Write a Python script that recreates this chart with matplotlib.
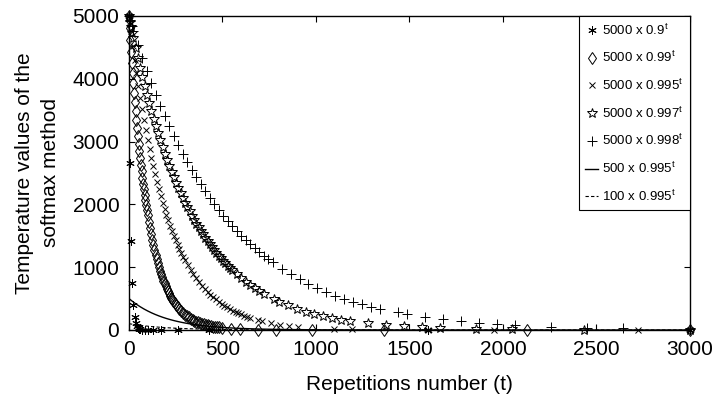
import matplotlib
matplotlib.use("Agg")
import matplotlib.pyplot as plt

plt.rcParams['font.family'] = ['Liberation Sans', 'DejaVu Sans']

# ---- data (t, temperature) ----
t_09 = [0, 6, 12, 18, 24, 30, 36, 42, 48, 54, 60, 72, 84, 100, 130, 170, 260, 430, 1600, 3000]
y_09 = [5000, 2657, 1412, 750, 399, 212, 113, 60, 32, 17, 9, 3, 1, 0, 0, 0, 0, 0, 0, 0]

t_099 = [0, 4, 8, 12, 16, 20, 24, 28, 32, 36, 40, 44, 48, 52, 56, 60, 64, 68, 72, 76, 80, 84, 88, 92, 96, 100,
         106, 112, 118, 124, 130, 136, 142, 148, 154, 160, 166, 172, 178, 184, 190, 196, 202, 208, 214, 220,
         226, 232, 238, 244, 250, 260, 270, 280, 290, 300, 310, 320, 330, 340, 350, 360, 370, 380, 390, 400,
         410, 420, 430, 440, 450, 460, 470, 480, 500, 545, 594, 690, 785, 980, 1364, 2128, 3000]
y_099 = [5000, 4803, 4614, 4432, 4257, 4090, 3929, 3774, 3625, 3482, 3345, 3213, 3087, 2965, 2848, 2736, 2628,
         2525, 2425, 2330, 2238, 2150, 2065, 1984, 1906, 1830,
         1723, 1622, 1527, 1438, 1354, 1275, 1200, 1130, 1064, 1001, 943, 888, 836, 787, 741, 697, 657, 618,
         582, 548, 516, 486, 457, 431, 405, 367, 332, 300, 271, 245, 222, 201, 181, 164, 148, 134, 121, 110,
         99, 90, 81, 73, 66, 60, 54, 49, 44, 40, 33, 21, 13, 5, 2, 0, 0, 0, 0]

t_0995 = [0, 10, 20, 30, 40, 50, 60, 70, 80, 90, 100, 110, 120, 130, 140, 150, 160, 170, 180, 190, 200,
          210, 220, 230, 240, 250, 260, 270, 280, 290, 300, 315, 330, 345, 360, 375, 390, 405, 420, 435, 450,
          465, 480, 495, 510, 525, 540, 555, 570, 585, 600, 615, 630, 645, 688, 712, 760, 808, 856, 904,
          1096, 1192, 1600, 1952, 2720, 3000]
y_0995 = [5000, 4756, 4523, 4302, 4092, 3892, 3701, 3520, 3348, 3185, 3029, 2881, 2740, 2606, 2479, 2357,
          2242, 2133, 2028, 1929, 1835, 1745, 1660, 1579, 1501, 1428, 1358, 1292, 1229, 1169, 1111, 1031,
          956, 887, 823, 763, 708, 657, 609, 565, 524, 486, 451, 418, 388, 360, 334, 310, 287, 266, 247,
          229, 213, 197, 159, 141, 111, 87, 68, 54, 21, 13, 2, 0, 0, 0]

t_0997 = [0, 6, 12, 18, 24, 36, 48, 60, 72, 84, 96, 108, 120, 132, 144, 156, 168, 180, 192, 204, 216, 228,
          240, 252, 264, 276, 288, 300, 312, 324, 336, 348, 360, 372, 384, 396, 408, 420, 432, 444, 456, 468,
          480, 492, 504, 516, 528, 540, 552, 576, 600, 624, 648, 672, 696, 720, 776, 800, 848, 896, 944, 992,
          1040, 1088, 1136, 1184, 1280, 1376, 1472, 1568, 1664, 1856, 2048, 2432, 3000]
y_0997 = [5000, 4911, 4823, 4737, 4652, 4487, 4328, 4175, 4027, 3885, 3747, 3614, 3486, 3363, 3244, 3129,
          3018, 2911, 2808, 2709, 2613, 2520, 2431, 2345, 2262, 2182, 2105, 2030, 1958, 1889, 1822, 1757,
          1695, 1635, 1577, 1521, 1468, 1416, 1365, 1317, 1270, 1225, 1182, 1140, 1100, 1061, 1023, 987, 952,
          886, 824, 767, 714, 664, 618, 575, 486, 452, 391, 339, 293, 254, 220, 190, 165, 143, 107, 80, 60,
          45, 34, 19, 11, 3, 1]

t_0998 = [0, 8, 16, 24, 48, 72, 96, 120, 144, 168, 192, 216, 240, 264, 288, 312, 336, 360, 384, 408, 432,
          456, 480, 504, 528, 552, 576, 600, 624, 648, 672, 696, 720, 744, 768, 816, 864, 912, 960, 1008,
          1056, 1104, 1152, 1200, 1248, 1296, 1344, 1440, 1488, 1584, 1680, 1776, 1872, 1968, 2064, 2256,
          2448, 2640, 3000]
y_0998 = [5000, 4921, 4842, 4765, 4542, 4329, 4126, 3932, 3748, 3572, 3404, 3245, 3093, 2947, 2809, 2677,
          2552, 2432, 2318, 2209, 2106, 2007, 1913, 1823, 1737, 1656, 1578, 1504, 1434, 1366, 1302, 1241,
          1183, 1127, 1075, 976, 887, 806, 732, 665, 604, 548, 498, 453, 411, 373, 339, 280, 254, 210, 173,
          143, 118, 97, 80, 55, 37, 25, 12]

t_500 = [0, 20, 40, 60, 80, 100, 120, 140, 160, 180, 200, 220, 240, 260, 280, 300, 320, 340, 360, 380, 400,
         440, 480, 520, 560, 600, 700, 800, 1000, 1500, 2000, 3000]
y_500 = [500, 452.3, 409.2, 370.1, 334.8, 302.9, 274.0, 247.9, 224.2, 202.8, 183.5, 166.0, 150.1, 135.8,
         122.9, 111.1, 100.5, 90.9, 82.3, 74.4, 67.3, 55.1, 45.1, 36.9, 30.2, 24.7, 15.0, 9.1, 3.3, 0.3, 0, 0]

t_100 = [0, 40, 80, 120, 160, 200, 240, 300, 400, 500, 600, 800, 1000, 1500, 3000]
y_100 = [100, 81.8, 67.0, 54.8, 44.8, 36.7, 30.0, 22.2, 13.5, 8.2, 4.9, 1.8, 0.7, 0.05, 0]

labels = ['5000 x 0.9$^{\\mathregular{t}}$', '5000 x 0.99$^{\\mathregular{t}}$',
          '5000 x 0.995$^{\\mathregular{t}}$', '5000 x 0.997$^{\\mathregular{t}}$',
          '5000 x 0.998$^{\\mathregular{t}}$', '500 x 0.995$^{\\mathregular{t}}$',
          '100 x 0.995$^{\\mathregular{t}}$']

xticks = [0, 500, 1000, 1500, 2000, 2500, 3000]
yticks = [0, 1000, 2000, 3000, 4000, 5000]

fig = plt.figure(figsize=(7.13, 4.05), dpi=100)
ax = fig.add_axes([0.1809, 0.1852, 0.7868, 0.7753])

k = dict(color='black', linestyle='none', clip_on=False, markeredgewidth=0.7)
ast = (6, 2, 0)
ax.plot(t_09, y_09, marker=ast, markersize=6, label=labels[0], **k)
ax.plot(t_099, y_099, marker='d', markersize=6.5, markerfacecolor='none', label=labels[1], **k)
ax.plot(t_0995, y_0995, marker='x', markersize=4, label=labels[2], **k)
ax.plot(t_0997, y_0997, marker='*', markersize=7, markerfacecolor='none', label=labels[3], **k)
ax.plot(t_0998, y_0998, marker='+', markersize=6.5, label=labels[4], **k)
ax.plot(t_500, y_500, color='black', linewidth=1.0, linestyle='-', label=labels[5])
ax.plot(t_100, y_100, color='black', linewidth=0.8, linestyle=(0, (3, 2)), label=labels[6])

ax.set_xlim(0, 3000)
ax.set_ylim(0, 5000)
ax.set_xticks(xticks)
ax.set_yticks(yticks)
ax.tick_params(direction='in', top=True, right=True, length=4, width=0.8, labelsize=15, pad=7)
for s in ax.spines.values():
    s.set_linewidth(1.0)

ax.set_xlabel('Repetitions number (t)', fontsize=15, labelpad=12)
ax.set_ylabel('Temperature values of the\nsoftmax method', fontsize=15, labelpad=9, linespacing=1.45)

leg = ax.legend(loc='upper right', fontsize=9.5, frameon=True, fancybox=False, edgecolor='black',
                borderaxespad=0, handlelength=1.0, handletextpad=0.3, labelspacing=0.95,
                borderpad=0.48, framealpha=1)
leg.get_frame().set_linewidth(0.8)

fig.savefig('out.png', dpi=100)
